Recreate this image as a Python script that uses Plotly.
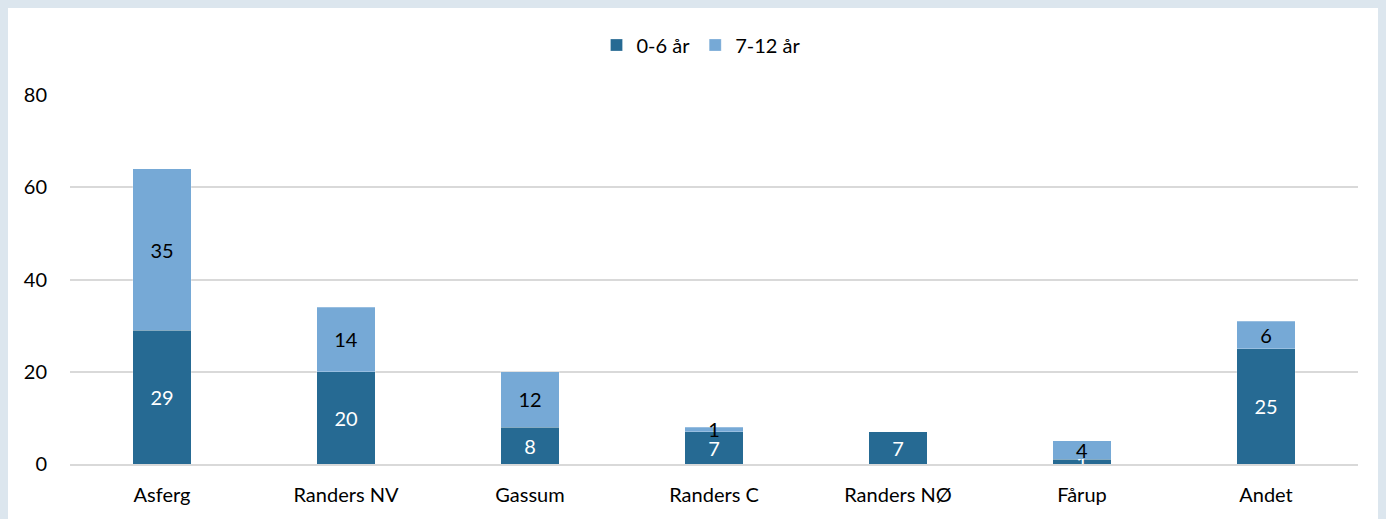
import plotly.graph_objects as go

categories = ["Asferg", "Randers NV", "Gassum", "Randers C", "Randers NØ", "Fårup", "Andet"]
age_0_6 = [29, 20, 8, 7, 7, 1, 25]
age_7_12 = [35, 14, 12, 1, 0, 4, 6]
series_names = ["0-6 år", "7-12 år"]
y_ticks = [0, 20, 40, 60, 80]

DARK = "rgb(38,106,147)"
LIGHT = "rgb(118,169,214)"
FONT = "Lato, Carlito, Calibri, sans-serif"
PAGE_BG = "#dce6ee"

# the page body has an 8px margin; figure sits at (8, 8)
W, H = 1378, 511
ML, MR, MT, MB = 62, 28, 87, 55
PW, PH = W - ML - MR, H - MT - MB


def lbl(vals):
    return [str(v) if v else "" for v in vals]


fig = go.Figure()
fig.add_trace(go.Bar(
    x=categories, y=age_0_6, name=series_names[0],
    marker=dict(color=DARK, line=dict(color="rgba(255,255,255,0.25)", width=1)),
    text=lbl(age_0_6), textposition="inside", insidetextanchor="middle",
    constraintext="none", textangle=0,
    textfont=dict(color="white", size=20, family=FONT),
))
fig.add_trace(go.Bar(
    x=categories, y=age_7_12, name=series_names[1],
    marker=dict(color=LIGHT, line=dict(color="rgba(255,255,255,0.25)", width=1)),
    text=lbl(age_7_12), textposition="inside", insidetextanchor="middle",
    constraintext="none", textangle=0,
    textfont=dict(color="black", size=20, family=FONT),
))

fig.update_layout(
    width=W, height=H,
    margin=dict(l=ML, r=MR, t=MT, b=MB, pad=0),
    barmode="stack", bargap=0.68,
    paper_bgcolor="white", plot_bgcolor="white",
    font=dict(family=FONT, size=20, color="black"),
    showlegend=True,
    legend=dict(orientation="h", x=(693 - ML) / PW, xanchor="center",
                y=1 + (MT - 37) / PH, yanchor="middle",
                font=dict(size=20, family=FONT), itemwidth=30,
                traceorder="normal"),
)
fig.update_yaxes(range=[0, 80], tickvals=y_ticks, showgrid=True,
                 gridcolor="#d9d9d9", gridwidth=1.5, zeroline=False,
                 showline=False, ticks="", ticklabelstandoff=22,
                 tickfont=dict(size=20, family=FONT))
fig.update_xaxes(showline=True, linecolor="#d9d9d9", linewidth=1.5,
                 ticks="", ticklabelstandoff=12,
                 tickfont=dict(size=20, family=FONT))

fig.write_html(
    "out.html",
    post_script=f"document.body.style.background='{PAGE_BG}';"
                "document.documentElement.style.background='{PAGE_BG}';".replace("{PAGE_BG}", PAGE_BG),
)
